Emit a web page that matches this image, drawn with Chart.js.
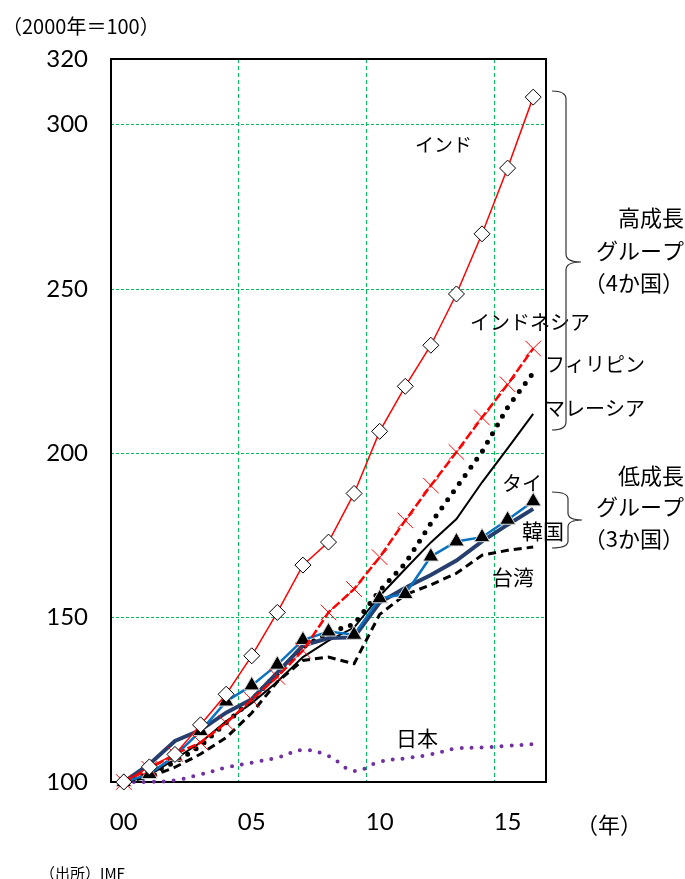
<!DOCTYPE html>
<html lang="ja">
<head>
<meta charset="utf-8">
<title>実質GDPの推移</title>
<script src="https://cdn.jsdelivr.net/npm/chart.js@4.4.1/dist/chart.umd.min.js"></script>
<style>
  html, body { margin: 0; padding: 0; background: #fff; }
</style>
</head>
<body>
<canvas id="gdp" width="685" height="879"></canvas>
<script>
// 実質GDP（2000年＝100）
const years = ["00", "01", "02", "03", "04", "05", "06", "07", "08", "09", "10", "11", "12", "13", "14", "15", "16"];
const yTicks = [100, 150, 200, 250, 300, 320];

const india       = [100, 104.6, 108.4, 117.4, 126.7, 138.4, 151.6, 166, 173, 187.8, 206.7, 220.4, 232.9, 248.5, 266.8, 286.8, 308.4];
const indonesia   = [100, 104, 108.5, 112, 118, 125, 132, 140, 151.6, 158.7, 168.4, 179.6, 190.2, 200.4, 210.9, 221, 231.9];
const philippines = [100, 102.5, 106, 111, 118, 125, 133, 141, 145.5, 148, 158.2, 166.5, 178.7, 189.6, 200.5, 214, 224.5];
const malaysia    = [100, 102, 107, 112, 118.5, 124, 130.5, 138, 143, 147, 156.6, 164.8, 172.9, 180, 191.2, 201.5, 212];
const thailand    = [100, 102.4, 108, 115.5, 124.5, 129.4, 135.7, 143.2, 145.8, 144.8, 155.9, 157.2, 168.6, 173.2, 174.5, 179.8, 185.4];
const korea       = [100, 105.4, 112.5, 115.8, 121.1, 125.2, 133.3, 141.5, 143.8, 144, 154.6, 159.1, 163, 167.4, 173.2, 178.3, 183.1];
const taiwan      = [100, 101.5, 104.5, 108.5, 113.5, 121, 130.5, 137, 138, 136, 151, 157, 160, 163.5, 169, 170.5, 171.5];
const japan       = [100, 100, 100.5, 102.3, 104.4, 105.9, 107.4, 109.7, 107.9, 103.4, 106.2, 107.2, 108.4, 110.2, 110.5, 111, 111.5];

const JP = '"Noto Sans CJK JP", "Noto Sans", sans-serif';
const NUM = 'Lato, "Noto Sans", sans-serif';
const GRID = "rgb(0, 190, 90)";

// 系列名・グループ名の注記
const notes = [
  { text: "インド", x: 415, y: 145, size: 19, align: "left" },
  { text: "インドネシア", x: 470, y: 322, size: 20, align: "left" },
  { text: "フィリピン", x: 545, y: 364, size: 20, align: "left" },
  { text: "マレーシア", x: 545, y: 408, size: 20, align: "left" },
  { text: "タイ", x: 502, y: 483, size: 20, align: "left" },
  { text: "韓国", x: 522, y: 531, size: 21, align: "left" },
  { text: "台湾", x: 492, y: 577, size: 21, align: "left" },
  { text: "日本", x: 396, y: 738, size: 21, align: "left" },
  { text: "高成長", x: 684, y: 218, size: 22, align: "right" },
  { text: "グループ", x: 684, y: 251, size: 22, align: "right" },
  { text: "（4か国）", x: 684, y: 283, size: 22, align: "right" },
  { text: "低成長", x: 684, y: 476, size: 22, align: "right" },
  { text: "グループ", x: 684, y: 507, size: 22, align: "right" },
  { text: "（3か国）", x: 684, y: 539, size: 22, align: "right" },
  { text: "（2000年＝100）", x: 2, y: 26, size: 20, align: "left" },
  { text: "（年）", x: 576, y: 825, size: 22, align: "left" },
  { text: "（出所）IMF", x: 40, y: 873, size: 15, align: "left" }
];

function brace(ctx, x0, x1, xt, top, mid, bot, r) {
  ctx.moveTo(x0, top);
  ctx.quadraticCurveTo(x1, top, x1, top + r);
  ctx.lineTo(x1, mid - r);
  ctx.quadraticCurveTo(x1, mid, xt, mid);
  ctx.quadraticCurveTo(x1, mid, x1, mid + r);
  ctx.lineTo(x1, bot - r);
  ctx.quadraticCurveTo(x1, bot, x0, bot);
}

const framePlugin = {
  id: "frame",
  beforeDatasetsDraw(chart) {
    const { ctx, chartArea: a } = chart;
    ctx.save();
    ctx.strokeStyle = "#000";
    ctx.lineWidth = 2;
    ctx.strokeRect(a.left, a.top, a.right - a.left, a.bottom - a.top);
    ctx.restore();
  },
  afterDraw(chart) {
    const ctx = chart.ctx;
    ctx.save();
    ctx.fillStyle = "#000";
    ctx.textBaseline = "middle";
    notes.forEach(n => {
      ctx.font = n.size + "px " + JP;
      ctx.textAlign = n.align;
      ctx.fillText(n.text, n.x, n.y);
    });
    ctx.strokeStyle = "#333";
    ctx.lineWidth = 1.2;
    ctx.beginPath();
    brace(ctx, 552, 566, 581, 91, 262, 430, 8);
    brace(ctx, 552, 568, 582, 492, 520, 548, 7);
    ctx.stroke();
    ctx.restore();
  }
};

new Chart(document.getElementById("gdp"), {
  type: "line",
  data: {
    labels: years,
    datasets: [
      {
        label: "インド",
        data: india,
        borderColor: "#ff0000",
        borderWidth: 1.5,
        pointStyle: "rectRot",
        pointRadius: 8,
        pointBackgroundColor: "#fff",
        pointBorderColor: "#000",
        pointBorderWidth: 1
      },
      {
        label: "インドネシア",
        data: indonesia,
        borderColor: "#ff0000",
        borderWidth: 2.5,
        borderDash: [9, 3],
        pointStyle: "crossRot",
        pointRadius: 11,
        pointBorderColor: "#ff0000",
        pointBorderWidth: 1
      },
      {
        label: "タイ",
        data: thailand,
        borderColor: "#0a72c2",
        borderWidth: 2.5,
        pointStyle: "triangle",
        pointRadius: 9,
        pointBackgroundColor: "#000",
        pointBorderColor: "#d9d9d9",
        pointBorderWidth: 1
      },
      {
        label: "韓国",
        data: korea,
        borderColor: "#263f6e",
        borderWidth: 4,
        pointRadius: 0
      },
      {
        label: "マレーシア",
        data: malaysia,
        borderColor: "#000",
        borderWidth: 2,
        pointRadius: 0
      },
      {
        label: "フィリピン",
        data: philippines,
        borderColor: "#000",
        borderWidth: 5,
        borderDash: [0, 10],
        borderCapStyle: "round",
        pointRadius: 0
      },
      {
        label: "台湾",
        data: taiwan,
        borderColor: "#000",
        borderWidth: 3,
        borderDash: [8, 5],
        pointRadius: 0
      },
      {
        label: "日本",
        data: japan,
        borderColor: "#7030a0",
        borderWidth: 4,
        borderDash: [0, 10],
        borderCapStyle: "round",
        tension: 0.4,
        pointRadius: 0
      }
    ]
  },
  options: {
    responsive: false,
    animation: false,
    clip: false,
    layout: { padding: { top: 59, right: 139, left: 0, bottom: 0 } },
    plugins: {
      legend: { display: false },
      tooltip: { enabled: false }
    },
    scales: {
      x: {
        type: "category",
        offset: true,
        border: { display: false, dash: [4, 3] },
        grid: {
          offset: true,
          drawTicks: false,
          lineWidth: 1,
          color: ctx => [5, 10, 15].includes(ctx.index) ? GRID : "transparent"
        },
        ticks: {
          autoSkip: false,
          maxRotation: 0,
          padding: 26,
          color: "#000",
          font: { family: NUM, size: 24 },
          callback: (v, i) => i % 5 === 0 ? years[i] : ""
        },
        afterFit: scale => { scale.height = 97; }
      },
      y: {
        min: 100,
        max: 320,
        border: { display: false, dash: [3, 2] },
        grid: {
          drawTicks: false,
          lineWidth: 1,
          color: GRID
        },
        ticks: {
          padding: 23,
          color: "#000",
          font: { family: NUM, size: 24 }
        },
        afterBuildTicks: scale => { scale.ticks = yTicks.map(v => ({ value: v })); },
        afterFit: scale => { scale.width = 111; }
      }
    }
  },
  plugins: [framePlugin]
});
</script>
</body>
</html>
